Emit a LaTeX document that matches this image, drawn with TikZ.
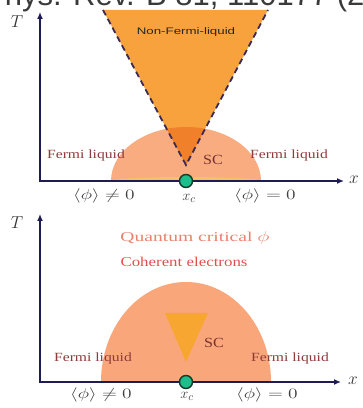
\documentclass[tikz,border=0pt]{standalone}
\usepackage{fontspec}
\setmainfont{Liberation Serif}
\newfontfamily\refsans{Liberation Sans}
\usetikzlibrary{arrows.meta}
\definecolor{axiscol}{HTML}{1E1B55}
\definecolor{domecol}{HTML}{F9AC80}
\definecolor{domecolb}{HTML}{F9A77A}
\definecolor{vcol}{HTML}{F8A23E}
\definecolor{vdark}{HTML}{F0802A}
\definecolor{dashcol}{HTML}{3A2A55}
\definecolor{sccol}{HTML}{F5C068}
\definecolor{tricol}{HTML}{F7A632}
\definecolor{flcol}{HTML}{8E3B3B}
\definecolor{qccol}{HTML}{E8826A}
\definecolor{cohcol}{HTML}{E0504A}
\definecolor{qcpcol}{HTML}{1DBE8C}
\definecolor{qcpline}{HTML}{153A2A}
\definecolor{refcol}{HTML}{3A3A3A}
\newcommand\wide[2][1.25]{\scalebox{#1}[1]{#2}}
\tikzset{
  axis/.style={draw=axiscol,line width=2.2pt,-{Latex[length=7pt,width=6pt]}},
  axlabel/.style={font=\fontsize{16}{18}\selectfont,text=black!80},
  fl/.style={font=\fontsize{12.5}{14}\selectfont,text=flcol,inner sep=0pt},
  sclabel/.style={font=\fontsize{14}{16}\selectfont,text=flcol!85!black,inner sep=0pt},
  phase/.style={font=\fontsize{14}{16}\selectfont,text=black!75,inner sep=0pt},
  qcp/.style={circle,fill=qcpcol,draw=qcpline,line width=1.4pt,minimum size=13pt,inner sep=0pt},
  vdash/.style={draw=dashcol,line width=1.8pt,dash pattern=on 6pt off 4pt},
}
\begin{document}
\begin{tikzpicture}[x=1pt,y=1pt]
\useasboundingbox (0,0) rectangle (363,408);
% cut-off reference line at the top
\node[anchor=base west,inner sep=0pt,font=\refsans\fontsize{31}{33}\selectfont,text=refcol] (ref) at (-16,402.5) {Phys. Rev. B 81, 110177 (2010)};

% ---------- top panel ----------
\coordinate (o1) at (40,227);
\coordinate (c1) at (186,227);
\fill[domecol] (111,227) arc[start angle=180,end angle=0,x radius=75,y radius=54] -- cycle;
\fill[sccol] (111,227) arc[start angle=180,end angle=0,x radius=75,y radius=4] -- cycle;
\coordinate (vl) at (103,398);
\coordinate (vr) at (268,398);
\coordinate (va) at (186,243);
\fill[vcol] (vl) -- (va) -- (vr) -- cycle;
\begin{scope}
  \clip (111,227) arc[start angle=180,end angle=0,x radius=75,y radius=54] -- cycle;
  \fill[vdark] (vl) -- (va) -- (vr) -- cycle;
\end{scope}
\draw[vdash] (vl) -- (va) -- (vr);
\node[font=\refsans\fontsize{9.5}{11}\selectfont,text=black!85,inner sep=0pt] (nfl) at (186,376) {\wide[1.4]{Non-Fermi-liquid}};
\node[sclabel] (sc1) at (213,248) {\wide[1.15]{SC}};
\node[fl] (fl1l) at (86,253) {\wide{Fermi liquid}};
\node[fl] (fl1r) at (289,253) {\wide{Fermi liquid}};
\coordinate (xe1) at (344,227);
\coordinate (ye1) at (40,396);
\draw[axis] (o1) -- (xe1);
\draw[axis] (40,225.9) -- (ye1);
\node[axlabel] (T1) at (17,386) {$T$};
\node[axlabel] (x1) at (354,228) {$x$};
\node[qcp] (q1) at (c1) {};
\node[phase] (p1l) at (104,212) {\wide[1.35]{$\langle\phi\rangle\neq0$}};
\node[phase,font=\fontsize{15}{16}\selectfont] (xc1) at (189,210) {$x_c$};
\node[phase] (p1r) at (265,212) {\wide[1.35]{$\langle\phi\rangle=0$}};

% ---------- bottom panel ----------
\coordinate (o2) at (40,26);
\coordinate (c2) at (186,26);
\fill[domecolb] (101,26) arc[start angle=180,end angle=0,x radius=85,y radius=100] -- cycle;
\coordinate (tl) at (165,95);
\coordinate (tr) at (208,95);
\coordinate (ta) at (186,46);
\fill[tricol] (tl) -- (ta) -- (tr) -- cycle;
\node[sclabel] (sc2) at (214,65) {\wide[1.15]{SC}};
\node[font=\fontsize{13.5}{15}\selectfont,text=qccol,inner sep=0pt] (qc) at (195,170) {\wide[1.45]{Quantum critical $\phi$}};
\node[font=\fontsize{13.5}{15}\selectfont,text=cohcol,inner sep=0pt] (coh) at (184,146) {\wide[1.25]{Coherent electrons}};
\node[fl] (fl2l) at (93,50) {\wide{Fermi liquid}};
\node[fl] (fl2r) at (290,50) {\wide{Fermi liquid}};
\coordinate (xe2) at (341,26);
\coordinate (ye2) at (40,194);
\draw[axis] (o2) -- (xe2);
\draw[axis] (40,24.9) -- (ye2);
\node[axlabel] (T2) at (17,185) {$T$};
\node[axlabel] (x2) at (353,27) {$x$};
\node[qcp] (q2) at (c2) {};
\node[phase] (p2l) at (101,13) {\wide[1.35]{$\langle\phi\rangle\neq0$}};
\node[phase,font=\fontsize{15}{16}\selectfont] (xc2) at (187,12) {$x_c$};
\node[phase] (p2r) at (267,13) {\wide[1.35]{$\langle\phi\rangle=0$}};
\end{tikzpicture}
\end{document}
